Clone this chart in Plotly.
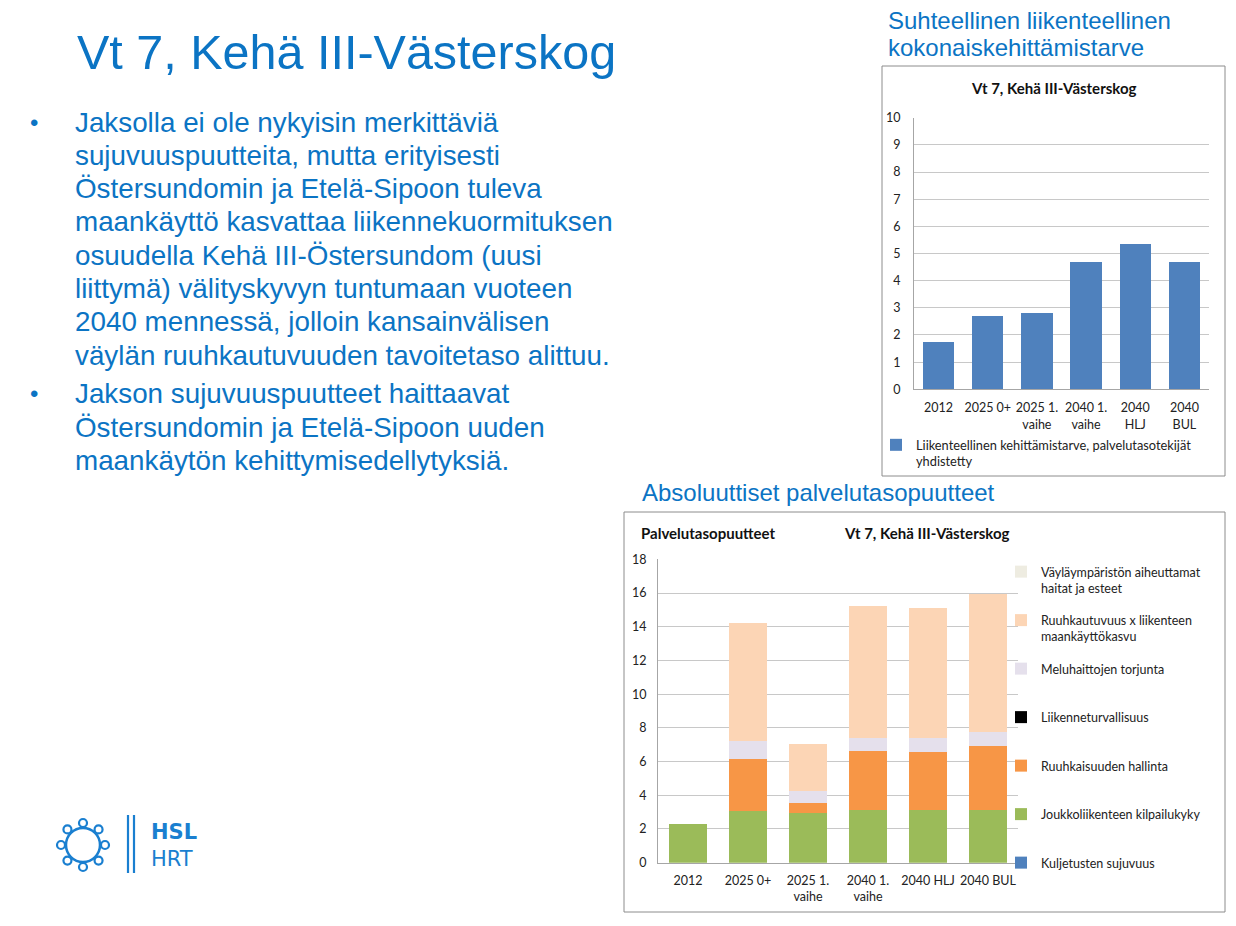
import math
import plotly.graph_objects as go

W, H = 1236, 926
OFF = 0
BLUE_TXT = "#0B74C4"

# ---------------- data ----------------
top_categories = ["2012", "2025 0+", "2025 1.<br>vaihe", "2040 1.<br>vaihe", "2040<br>HLJ", "2040<br>BUL"]
top_values = [1.75, 2.70, 2.82, 4.70, 5.35, 4.67]
top_series_name = "Liikenteellinen kehittämistarve, palvelutasotekijät<br>yhdistetty"

bottom_categories = ["2012", "2025 0+", "2025 1.<br>vaihe", "2040 1.<br>vaihe", "2040 HLJ", "2040 BUL"]
kuljetusten_sujuvuus = [0, 0, 0, 0, 0, 0]
joukkoliikenteen_kilpailukyky = [2.30, 3.05, 2.95, 3.10, 3.10, 3.15]
ruuhkaisuuden_hallinta = [0, 3.10, 0.60, 3.50, 3.45, 3.75]
liikenneturvallisuus = [0, 0, 0, 0, 0, 0]
meluhaittojen_torjunta = [0, 1.05, 0.70, 0.80, 0.85, 0.85]
ruuhkautuvuus_maankaytto = [0, 7.00, 2.80, 7.80, 7.70, 8.20]
vaylaymparisto = [0, 0, 0, 0, 0, 0]

bottom_series = [
    ("Kuljetusten sujuvuus", kuljetusten_sujuvuus, "#4F81BD"),
    ("Joukkoliikenteen kilpailukyky", joukkoliikenteen_kilpailukyky, "#9BBB59"),
    ("Ruuhkaisuuden hallinta", ruuhkaisuuden_hallinta, "#F79646"),
    ("Liikenneturvallisuus", liikenneturvallisuus, "#000000"),
    ("Meluhaittojen torjunta", meluhaittojen_torjunta, "#E5E0EC"),
    ("Ruuhkautuvuus x liikenteen<br>maankäyttökasvu", ruuhkautuvuus_maankaytto, "#FCD5B5"),
    ("Väyläympäristön aiheuttamat<br>haitat ja esteet", vaylaymparisto, "#EEECE1"),
]

title_text = "Vt 7, Kehä III-Västerskog"
bullet1 = [
    "Jaksolla ei ole nykyisin merkittäviä",
    "sujuvuuspuutteita, mutta erityisesti",
    "Östersundomin ja Etelä-Sipoon tuleva",
    "maankäyttö kasvattaa liikennekuormituksen",
    "osuudella Kehä III-Östersundom (uusi",
    "liittymä) välityskyvyn tuntumaan vuoteen",
    "2040 mennessä, jolloin kansainvälisen",
    "väylän ruuhkautuvuuden tavoitetaso alittuu.",
]
bullet2 = [
    "Jakson sujuvuuspuutteet haittaavat",
    "Östersundomin ja Etelä-Sipoon uuden",
    "maankäytön kehittymisedellytyksiä.",
]


def px(x):
    return (x - OFF) / W


def py(y):
    return 1 - (y - OFF) / H


fig = go.Figure()

# ---------------- top chart ----------------
fig.add_trace(go.Bar(
    x=top_categories, y=top_values, name=top_series_name,
    marker=dict(color="#4F81BD", line=dict(width=0)),
    xaxis="x", yaxis="y", legend="legend",
))

# ---------------- bottom chart ----------------
n = len(bottom_series)
for i, (name, vals, col) in enumerate(bottom_series):
    txt = name if "<br>" in name else name + "<br>\u00a0"
    fig.add_trace(go.Bar(
        x=bottom_categories, y=vals, name=txt,
        marker=dict(color=col, line=dict(width=0)),
        xaxis="x2", yaxis="y2", legend="legend2", legendgroup=f"g{i}",
        legendrank=n - i,
    ))

tick_font = dict(family="Lato", size=12.5, color="#222222")
grid_col = "#C8C8C8"

fig.update_layout(
    width=W, height=H,
    margin=dict(l=0, r=0, t=0, b=0, autoexpand=False),
    paper_bgcolor="white", plot_bgcolor="white",
    barmode="stack", bargap=0.36,
    showlegend=True,
    xaxis=dict(domain=[px(914), px(1209)], anchor="y", tickfont=tick_font,
               showline=True, linecolor="#A6A6A6", showgrid=False, ticks="",
               ticklabelstandoff=7),
    yaxis=dict(domain=[py(389.3), py(117.7)], anchor="x", range=[0, 10], dtick=1,
               tickfont=tick_font, showgrid=True, gridcolor=grid_col, showline=True,
               linecolor="#A6A6A6", zeroline=False, ticks="", ticklabelstandoff=10),
    xaxis2=dict(domain=[px(658), px(1018)], anchor="y2", tickfont=tick_font,
                showline=True, linecolor="#A6A6A6", showgrid=False, ticks="",
                ticklabelstandoff=6),
    yaxis2=dict(domain=[py(862.7), py(559.3)], anchor="x2", range=[0, 18], dtick=2,
                tickfont=tick_font, showgrid=True, gridcolor=grid_col, showline=True,
                linecolor="#A6A6A6", zeroline=False, ticks="", ticklabelstandoff=8),
    legend=dict(x=px(876), y=py(430), xanchor="left", yanchor="top",
                font=dict(family="Lato", size=12.8, color="#222222"),
                bgcolor="rgba(0,0,0,0)", itemwidth=30, valign="top"),
    legend2=dict(x=px(1001), y=py(557), xanchor="left", yanchor="top",
                 font=dict(family="Lato", size=12.5, color="#222222"),
                 bgcolor="rgba(0,0,0,0)", itemwidth=30, valign="top",
                 traceorder="grouped", tracegroupgap=13),
)

shapes = [
    dict(type="rect", xref="paper", yref="paper", x0=px(882), x1=px(1225), y0=py(476), y1=py(66),
         line=dict(color="#8C8C8C", width=1)),
    dict(type="rect", xref="paper", yref="paper", x0=px(624), x1=px(1225), y0=py(912), y1=py(512),
         line=dict(color="#8C8C8C", width=1)),
    # logo: two vertical bars
    dict(type="line", xref="paper", yref="paper", x0=px(128), x1=px(128), y0=py(873), y1=py(815),
         line=dict(color="#1A7FD0", width=2.2)),
    dict(type="line", xref="paper", yref="paper", x0=px(134), x1=px(134), y0=py(873), y1=py(815),
         line=dict(color="#1A7FD0", width=2.2)),
    # logo ring
    dict(type="circle", xref="paper", yref="paper", x0=px(66), x1=px(100), y0=py(862), y1=py(828),
         line=dict(color="#1A7FD0", width=2.5)),
]
for k in range(8):
    a = math.pi / 2 + k * math.pi / 4
    cx, cy = 83 + 22 * math.cos(a), 845 - 22 * math.sin(a)
    shapes.append(dict(type="circle", xref="paper", yref="paper",
                       x0=px(cx - 4), x1=px(cx + 4), y0=py(cy + 4), y1=py(cy - 4),
                       fillcolor="white", line=dict(color="#1A7FD0", width=2.2)))
fig.update_layout(shapes=shapes)

ann = []


def text(x, y, s, size, color=BLUE_TXT, family="Liberation Sans", xanchor="left"):
    ann.append(dict(x=px(x), y=py(y), xref="paper", yref="paper", text=s, showarrow=False,
                    xanchor=xanchor, yanchor="middle", align="left",
                    font=dict(family=family, size=size, color=color)))


text(75, 52, title_text, 48.5)
for i, line in enumerate(bullet1):
    text(73, 122 + i * 33.3, line, 27.8)
for i, line in enumerate(bullet2):
    text(73, 394 + i * 33.3, line, 27.8)
text(28, 122, "•", 24)
text(28, 394, "•", 24)

text(886, 21, "Suhteellinen liikenteellinen", 24)
text(886, 48, "kokonaiskehittämistarve", 24)
text(640, 492, "Absoluuttiset palvelutasopuutteet", 24)

text(1053, 88, "<b>" + title_text + "</b>", 15, color="#111111", family="Lato", xanchor="center")
text(639, 533, "<b>Palvelutasopuutteet</b>", 15, color="#111111", family="Lato")
text(842, 533, "<b>" + title_text + "</b>", 15, color="#111111", family="Lato")

text(149, 845, "<b>HSL</b><br>HRT", 21, color="#1A7FD0", family="DejaVu Sans")

fig.update_layout(annotations=ann)
fig.write_html("out.html", post_script="document.body.style.margin='0';",
               config={"displayModeBar": False})
